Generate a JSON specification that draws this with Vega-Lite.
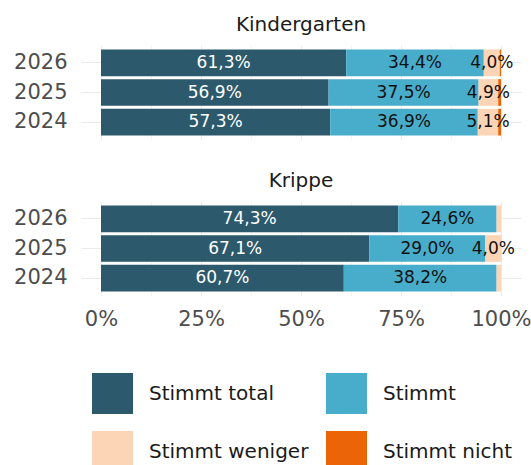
{
  "$schema": "https://vega.github.io/schema/vega-lite/v6.json",
  "background": "white",
  "padding": {"left": 13, "top": 15, "right": 0, "bottom": 0},
  "config": {
    "font": "DejaVu Sans",
    "locale": {"number": {"decimal": ",", "thousands": ".", "grouping": [3], "currency": ["", " €"]}},
    "view": {"stroke": null},
    "axis": {"labelFont": "DejaVu Sans", "labelFontSize": 21, "labelColor": "#4d4d4d", "ticks": false, "domain": false, "title": null, "gridColor": "#ebebeb"},
    "title": {"font": "DejaVu Sans", "fontSize": 20, "fontWeight": "normal", "color": "#1a1a1a", "anchor": "middle", "offset": 10},
    "legend": {"title": null, "symbolType": "square", "symbolSize": 1681, "symbolStrokeWidth": 0, "symbolOpacity": 1, "labelFont": "DejaVu Sans", "labelFontSize": 20, "labelColor": "#1a1a1a", "labelOffset": 16, "columns": 2, "columnPadding": 17, "rowPadding": 17, "padding": 0}
  },
  "data": {"values": [
    {"Gruppe": "Kindergarten", "Jahr": "2026", "Kategorie": "Stimmt total", "Nr": 1, "Wert": 0.613},
    {"Gruppe": "Kindergarten", "Jahr": "2026", "Kategorie": "Stimmt", "Nr": 2, "Wert": 0.344},
    {"Gruppe": "Kindergarten", "Jahr": "2026", "Kategorie": "Stimmt weniger", "Nr": 3, "Wert": 0.040},
    {"Gruppe": "Kindergarten", "Jahr": "2026", "Kategorie": "Stimmt nicht", "Nr": 4, "Wert": 0.003},
    {"Gruppe": "Kindergarten", "Jahr": "2025", "Kategorie": "Stimmt total", "Nr": 1, "Wert": 0.569},
    {"Gruppe": "Kindergarten", "Jahr": "2025", "Kategorie": "Stimmt", "Nr": 2, "Wert": 0.375},
    {"Gruppe": "Kindergarten", "Jahr": "2025", "Kategorie": "Stimmt weniger", "Nr": 3, "Wert": 0.049},
    {"Gruppe": "Kindergarten", "Jahr": "2025", "Kategorie": "Stimmt nicht", "Nr": 4, "Wert": 0.007},
    {"Gruppe": "Kindergarten", "Jahr": "2024", "Kategorie": "Stimmt total", "Nr": 1, "Wert": 0.573},
    {"Gruppe": "Kindergarten", "Jahr": "2024", "Kategorie": "Stimmt", "Nr": 2, "Wert": 0.369},
    {"Gruppe": "Kindergarten", "Jahr": "2024", "Kategorie": "Stimmt weniger", "Nr": 3, "Wert": 0.051},
    {"Gruppe": "Kindergarten", "Jahr": "2024", "Kategorie": "Stimmt nicht", "Nr": 4, "Wert": 0.007},
    {"Gruppe": "Krippe", "Jahr": "2026", "Kategorie": "Stimmt total", "Nr": 1, "Wert": 0.743},
    {"Gruppe": "Krippe", "Jahr": "2026", "Kategorie": "Stimmt", "Nr": 2, "Wert": 0.246},
    {"Gruppe": "Krippe", "Jahr": "2026", "Kategorie": "Stimmt weniger", "Nr": 3, "Wert": 0.011},
    {"Gruppe": "Krippe", "Jahr": "2026", "Kategorie": "Stimmt nicht", "Nr": 4, "Wert": 0.0},
    {"Gruppe": "Krippe", "Jahr": "2025", "Kategorie": "Stimmt total", "Nr": 1, "Wert": 0.671},
    {"Gruppe": "Krippe", "Jahr": "2025", "Kategorie": "Stimmt", "Nr": 2, "Wert": 0.290},
    {"Gruppe": "Krippe", "Jahr": "2025", "Kategorie": "Stimmt weniger", "Nr": 3, "Wert": 0.040},
    {"Gruppe": "Krippe", "Jahr": "2025", "Kategorie": "Stimmt nicht", "Nr": 4, "Wert": 0.0},
    {"Gruppe": "Krippe", "Jahr": "2024", "Kategorie": "Stimmt total", "Nr": 1, "Wert": 0.607},
    {"Gruppe": "Krippe", "Jahr": "2024", "Kategorie": "Stimmt", "Nr": 2, "Wert": 0.382},
    {"Gruppe": "Krippe", "Jahr": "2024", "Kategorie": "Stimmt weniger", "Nr": 3, "Wert": 0.011},
    {"Gruppe": "Krippe", "Jahr": "2024", "Kategorie": "Stimmt nicht", "Nr": 4, "Wert": 0.0}
  ]},
  "transform": [
    {"stack": "Wert", "groupby": ["Gruppe", "Jahr"], "sort": [{"field": "Nr"}], "as": ["x0", "x1"]},
    {"calculate": "(datum.x0 + datum.x1) / 2", "as": "xm"}
  ],
  "spacing": 31,
  "vconcat": [
    {
      "title": {"text": "Kindergarten"},
      "width": 440,
      "height": 95,
      "transform": [{"filter": "datum.Gruppe === 'Kindergarten'"}],
      "encoding": {
        "y": {"field": "Jahr", "type": "ordinal", "sort": "descending", "scale": {"paddingInner": 0.1, "paddingOuter": 0.15}, "axis": {"grid": true, "bandPosition": 0.5, "gridWidth": 1.1, "labelPadding": 14}}
      },
      "layer": [
        {
          "mark": {"type": "bar"},
          "encoding": {
            "x": {"field": "x0", "type": "quantitative", "scale": {"domain": [-0.05, 1.05], "nice": false, "zero": false},
                  "axis": {"values": [0, 0.125, 0.25, 0.375, 0.5, 0.625, 0.75, 0.875, 1], "labels": false, "grid": true,
                           "gridWidth": {"condition": {"test": "datum.value * 8 % 2 === 0", "value": 1.1}, "value": 0.6}}},
            "x2": {"field": "x1"},
            "color": {"field": "Kategorie", "type": "nominal", "sort": ["Stimmt total", "Stimmt", "Stimmt weniger", "Stimmt nicht"],
                      "scale": {"domain": ["Stimmt total", "Stimmt", "Stimmt weniger", "Stimmt nicht"], "range": ["#2c5a6c", "#48adca", "#fcd4b6", "#eb6408"]},
                      "legend": {"orient": "none", "direction": "horizontal", "legendX": 11, "legendY": 328}}
          }
        },
        {
          "transform": [{"filter": "datum.Wert >= 0.02"}],
          "mark": {"type": "text", "fontSize": 17, "font": "DejaVu Sans"},
          "encoding": {
            "x": {"field": "xm", "type": "quantitative"},
            "text": {"field": "Wert", "type": "quantitative", "format": ".1%"},
            "color": {"condition": {"test": "datum.Kategorie === 'Stimmt total'", "value": "white"}, "value": "#111111"}
          }
        }
      ]
    },
    {
      "title": {"text": "Krippe"},
      "width": 440,
      "height": 95,
      "transform": [{"filter": "datum.Gruppe === 'Krippe'"}],
      "encoding": {
        "y": {"field": "Jahr", "type": "ordinal", "sort": "descending", "scale": {"paddingInner": 0.1, "paddingOuter": 0.15}, "axis": {"grid": true, "bandPosition": 0.5, "gridWidth": 1.1, "labelPadding": 14}}
      },
      "layer": [
        {
          "mark": {"type": "bar"},
          "encoding": {
            "x": {"field": "x0", "type": "quantitative", "scale": {"domain": [-0.05, 1.05], "nice": false, "zero": false},
                  "axis": {"values": [0, 0.125, 0.25, 0.375, 0.5, 0.625, 0.75, 0.875, 1], "format": ".0%", "labelFlush": false, "labelPadding": 12,
                           "labelExpr": "datum.value * 8 % 2 === 0 ? datum.label : ''", "grid": true,
                           "gridWidth": {"condition": {"test": "datum.value * 8 % 2 === 0", "value": 1.1}, "value": 0.6}}},
            "x2": {"field": "x1"},
            "color": {"field": "Kategorie", "type": "nominal", "sort": ["Stimmt total", "Stimmt", "Stimmt weniger", "Stimmt nicht"],
                      "scale": {"domain": ["Stimmt total", "Stimmt", "Stimmt weniger", "Stimmt nicht"], "range": ["#2c5a6c", "#48adca", "#fcd4b6", "#eb6408"]},
                      "legend": {"orient": "none", "direction": "horizontal", "legendX": 11, "legendY": 328}}
          }
        },
        {
          "transform": [{"filter": "datum.Wert >= 0.02"}],
          "mark": {"type": "text", "fontSize": 17, "font": "DejaVu Sans"},
          "encoding": {
            "x": {"field": "xm", "type": "quantitative"},
            "text": {"field": "Wert", "type": "quantitative", "format": ".1%"},
            "color": {"condition": {"test": "datum.Kategorie === 'Stimmt total'", "value": "white"}, "value": "#111111"}
          }
        }
      ]
    }
  ]
}
